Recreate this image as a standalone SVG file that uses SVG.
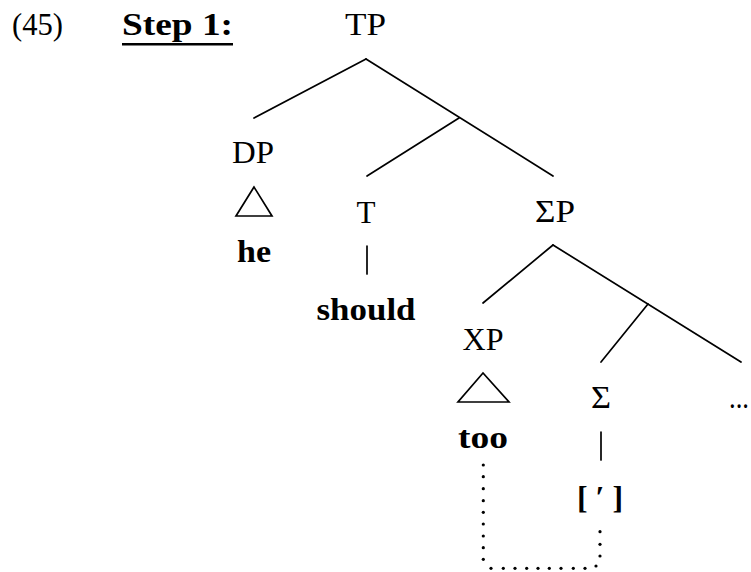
<svg xmlns="http://www.w3.org/2000/svg" width="751" height="572" viewBox="0 0 751 572">
<style>
  text { font-family: "Liberation Serif", "DejaVu Serif", serif; font-size: 31px; fill: #000; }
  .b { font-weight: bold; font-size: 32px; }
  .edge { stroke: #000; stroke-width: 1.7; fill: none; stroke-linecap: round; }
  .tri { stroke: #000; stroke-width: 1.7; fill: none; stroke-linejoin: miter; }
  .dot { fill: #000; }
</style>
<rect width="751" height="572" fill="#fff"/>

<g id="header">
  <text x="12" y="35" textLength="51" lengthAdjust="spacingAndGlyphs">(45)</text>
  <text class="b" x="122" y="35" textLength="111" lengthAdjust="spacingAndGlyphs">Step 1:</text>
  <line x1="122" y1="44.3" x2="233" y2="44.3" stroke="#000" stroke-width="2.6"/>
</g>

<g id="connectors">
  <line class="edge" x1="366" y1="59" x2="254" y2="118"/>
  <line class="edge" x1="366" y1="59" x2="553" y2="176"/>
  <line class="edge" x1="459" y1="118" x2="367" y2="176"/>
  <line class="edge" x1="553" y1="245" x2="483" y2="303"/>
  <line class="edge" x1="553" y1="245" x2="741" y2="362"/>
  <line class="edge" x1="648" y1="304" x2="601" y2="362"/>
  <line class="edge" x1="367" y1="246" x2="367" y2="274"/>
  <line class="edge" x1="601" y1="432" x2="601" y2="460"/>
</g>

<g id="node-TP"><text x="365.5" y="34.5" text-anchor="middle" textLength="41" lengthAdjust="spacingAndGlyphs">TP</text></g>

<g id="node-DP">
  <text x="253" y="163" text-anchor="middle" textLength="42" lengthAdjust="spacingAndGlyphs">DP</text>
  <polygon class="tri" points="254,187 236,216 272,216"/>
  <text class="b" x="254" y="262" text-anchor="middle" textLength="34" lengthAdjust="spacingAndGlyphs">he</text>
</g>

<g id="node-T">
  <text x="366" y="223" text-anchor="middle" textLength="19" lengthAdjust="spacingAndGlyphs">T</text>
  <text class="b" x="366" y="320" text-anchor="middle" textLength="99" lengthAdjust="spacingAndGlyphs">should</text>
</g>

<g id="node-SigmaP"><text x="555" y="222" text-anchor="middle" textLength="40" lengthAdjust="spacingAndGlyphs">ΣP</text></g>

<g id="node-XP">
  <text x="483" y="350" text-anchor="middle" textLength="41" lengthAdjust="spacingAndGlyphs">XP</text>
  <polygon class="tri" points="483,373 458,402 509,402"/>
  <text class="b" x="483" y="448" text-anchor="middle" textLength="50" lengthAdjust="spacingAndGlyphs">too</text>
</g>

<g id="node-Sigma">
  <text x="601" y="408" text-anchor="middle" textLength="20" lengthAdjust="spacingAndGlyphs">Σ</text>
  <text class="b" x="600" y="508" text-anchor="middle" textLength="46" lengthAdjust="spacingAndGlyphs">[ ′ ]</text>
</g>

<g id="node-ellipsis"><text x="729" y="408" textLength="20" lengthAdjust="spacingAndGlyphs">...</text></g>

<g id="dotted-link">
  <circle class="dot" cx="483.3" cy="465" r="1.6"/>
  <circle class="dot" cx="483.3" cy="476.7" r="1.6"/>
  <circle class="dot" cx="483.3" cy="488.7" r="1.6"/>
  <circle class="dot" cx="483.3" cy="500.7" r="1.6"/>
  <circle class="dot" cx="483.3" cy="512.3" r="1.6"/>
  <circle class="dot" cx="483.3" cy="524" r="1.6"/>
  <circle class="dot" cx="483.3" cy="536" r="1.6"/>
  <circle class="dot" cx="483.3" cy="547.7" r="1.6"/>
  <circle class="dot" cx="483.3" cy="559.3" r="1.6"/>
  <circle class="dot" cx="491" cy="568.3" r="1.6"/>
  <circle class="dot" cx="503.3" cy="568.3" r="1.6"/>
  <circle class="dot" cx="515" cy="568.3" r="1.6"/>
  <circle class="dot" cx="526.7" cy="568.3" r="1.6"/>
  <circle class="dot" cx="538" cy="568.3" r="1.6"/>
  <circle class="dot" cx="549.3" cy="568.3" r="1.6"/>
  <circle class="dot" cx="561" cy="568.3" r="1.6"/>
  <circle class="dot" cx="573.3" cy="568.3" r="1.6"/>
  <circle class="dot" cx="585" cy="568.3" r="1.6"/>
  <circle class="dot" cx="596" cy="566" r="1.6"/>
  <circle class="dot" cx="600" cy="556" r="1.6"/>
  <circle class="dot" cx="600" cy="544.3" r="1.6"/>
  <circle class="dot" cx="600" cy="531.7" r="1.6"/>
</g>
</svg>
